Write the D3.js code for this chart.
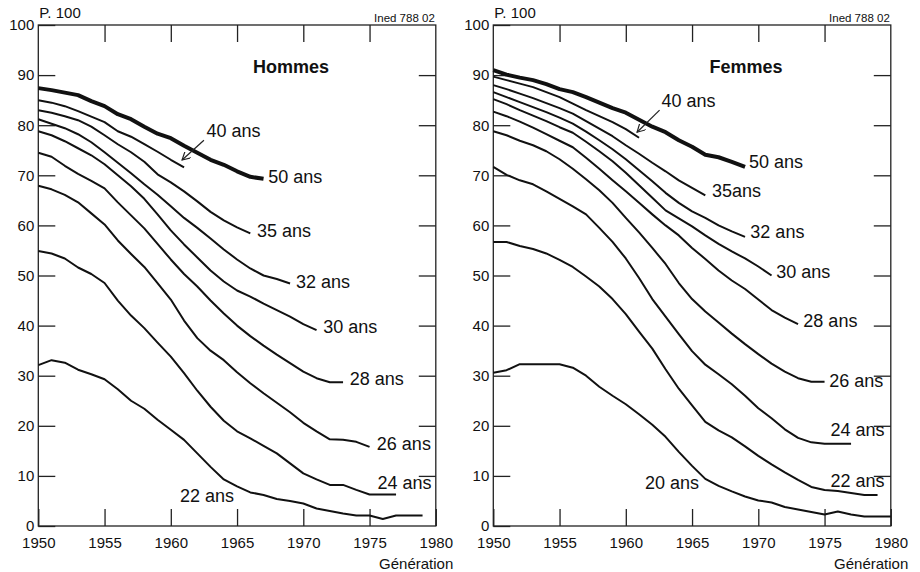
<!DOCTYPE html>
<html>
<head>
<meta charset="utf-8">
<script src="https://cdn.jsdelivr.net/npm/d3@7/dist/d3.min.js"></script>
<style>
  body { margin: 0; background: #fff; }
  svg text { font-family: "Liberation Sans", Arial, Helvetica, sans-serif; fill: #111; }
</style>
</head>
<body>
<div id="chart"></div>
<script>
var firstYear = 1950;
var xTicks = [1950, 1955, 1960, 1965, 1970, 1975, 1980];
var yTicks = [0, 10, 20, 30, 40, 50, 60, 70, 80, 90, 100];

// Hommes - p. 100 still single at each age, by generation (values from 1950 on)
var h50 = [87.4, 87.0, 86.5, 86.0, 84.8, 83.8, 82.2, 81.2, 79.7, 78.3, 77.4, 75.9, 74.5, 73.1, 72.1, 70.8, 69.7, 69.3];
var h40 = [85.0, 84.5, 83.8, 82.8, 81.7, 80.6, 78.8, 77.7, 76.2, 74.7, 73.1, 71.6];
var h35 = [83.0, 82.5, 81.8, 81.0, 79.7, 78.0, 76.2, 74.6, 72.7, 70.2, 68.6, 66.8, 64.8, 62.7, 61.0, 59.6, 58.4];
var h32 = [81.2, 80.3, 79.4, 78.2, 76.6, 74.6, 72.5, 70.4, 68.2, 66.1, 63.8, 61.5, 59.5, 57.4, 55.2, 53.2, 51.4, 50.0, 49.3, 48.4];
var h30 = [78.8, 78.0, 76.8, 75.4, 74.0, 72.2, 70.0, 67.8, 65.3, 62.2, 59.0, 56.2, 53.6, 51.0, 48.8, 47.0, 45.8, 44.4, 43.1, 41.8, 40.3, 39.1];
var h28 = [74.5, 73.7, 71.9, 70.3, 68.9, 67.4, 64.6, 62.0, 59.4, 56.3, 53.2, 50.3, 47.8, 45.0, 42.4, 40.0, 37.9, 36.0, 34.2, 32.5, 30.8, 29.5, 28.7, 28.7];
var h26 = [67.9, 67.2, 66.1, 64.6, 62.4, 60.2, 57.0, 54.3, 51.7, 48.5, 45.2, 41.0, 37.5, 35.0, 33.1, 30.7, 28.5, 26.5, 24.6, 22.7, 20.6, 18.9, 17.3, 17.2, 16.8, 15.8];
var h24 = [54.9, 54.4, 53.4, 51.6, 50.3, 48.5, 45.0, 42.0, 39.5, 36.6, 33.8, 30.5, 27.0, 23.8, 21.0, 18.9, 17.5, 16.0, 14.5, 12.5, 10.5, 9.3, 8.2, 8.2, 7.2, 6.3, 6.3, 6.3];
var h22 = [32.1, 33.1, 32.6, 31.2, 30.3, 29.3, 27.3, 25.0, 23.4, 21.2, 19.2, 17.2, 14.5, 11.8, 9.3, 7.9, 6.7, 6.2, 5.4, 5.0, 4.5, 3.5, 3.0, 2.5, 2.1, 2.1, 1.4, 2.1, 2.1, 2.1];

// Femmes
var f50 = [91.0, 90.1, 89.5, 89.0, 88.2, 87.2, 86.6, 85.6, 84.5, 83.4, 82.5, 81.1, 79.7, 78.6, 77.0, 75.7, 74.1, 73.6, 72.7, 71.7];
var f40 = [89.7, 89.0, 88.3, 87.6, 86.6, 85.6, 84.3, 83.0, 81.8, 80.6, 79.2, 77.5];
var f35 = [88.0, 87.2, 86.3, 85.4, 84.4, 83.4, 82.3, 80.8, 79.3, 77.8, 76.0, 74.3, 72.5, 70.8, 69.0, 67.5, 66.0];
var f32 = [86.6, 85.6, 84.6, 83.6, 82.6, 81.5, 80.3, 78.7, 77.0, 75.2, 73.2, 71.0, 68.8, 66.5, 64.5, 62.8, 61.5, 60.0, 58.8, 57.7];
var f30 = [85.2, 84.2, 83.0, 81.9, 80.8, 79.6, 78.5, 76.7, 74.8, 72.8, 70.5, 68.0, 65.5, 63.0, 61.4, 59.8, 58.0, 56.3, 54.8, 53.4, 51.8, 50.0];
var f28 = [82.7, 81.8, 80.7, 79.5, 78.2, 76.9, 75.6, 73.5, 71.3, 69.0, 66.8, 64.5, 62.2, 60.0, 58.0, 55.5, 53.3, 51.0, 49.0, 47.3, 45.2, 43.1, 41.6, 40.3];
var f26 = [78.8, 78.0, 76.9, 76.0, 74.8, 73.2, 71.3, 69.2, 67.0, 64.5, 61.5, 58.6, 55.5, 52.3, 48.5, 45.3, 42.8, 40.6, 38.4, 36.3, 34.3, 32.4, 30.8, 29.5, 28.8, 28.8];
var f24 = [71.7, 70.1, 69.0, 68.2, 66.8, 65.3, 63.8, 62.2, 59.5, 56.7, 53.4, 49.5, 45.3, 41.8, 38.3, 34.9, 32.2, 30.3, 28.3, 26.0, 23.5, 21.5, 19.3, 17.6, 16.7, 16.4, 16.4, 16.4];
var f22 = [56.7, 56.7, 55.9, 55.3, 54.4, 53.1, 51.7, 49.8, 47.8, 45.3, 42.3, 38.8, 35.4, 31.3, 27.4, 24.1, 20.8, 19.1, 17.7, 15.9, 14.0, 12.3, 10.7, 9.2, 7.8, 7.2, 7.0, 6.6, 6.2, 6.2];
var f20 = [30.6, 31.1, 32.3, 32.3, 32.3, 32.3, 31.6, 30.0, 27.8, 26.0, 24.3, 22.3, 20.2, 17.8, 14.8, 12.0, 9.4, 8.0, 6.9, 5.9, 5.1, 4.7, 3.8, 3.3, 2.8, 2.3, 2.9, 2.3, 1.9, 1.9, 1.9];

// curve labels, anchored in data units (year, p. 100)
var hommesLabels = [
  {text: "50 ans", year: 1967.35, value: 68.5},
  {text: "40 ans", year: 1962.7, value: 77.6},
  {text: "35 ans", year: 1966.5, value: 57.7},
  {text: "32 ans", year: 1969.45, value: 47.5},
  {text: "30 ans", year: 1971.5, value: 38.5},
  {text: "28 ans", year: 1973.5, value: 28.1},
  {text: "26 ans", year: 1975.55, value: 15.2},
  {text: "24 ans", year: 1975.6, value: 7.4},
  {text: "22 ans", year: 1960.7, value: 4.8}
];
var femmesLabels = [
  {text: "50 ans", year: 1969.3, value: 71.5},
  {text: "40 ans", year: 1962.7, value: 83.6},
  {text: "35ans", year: 1966.5, value: 65.6},
  {text: "32 ans", year: 1969.4, value: 57.5},
  {text: "30 ans", year: 1971.35, value: 49.5},
  {text: "28 ans", year: 1973.4, value: 39.8},
  {text: "26 ans", year: 1975.35, value: 27.7},
  {text: "24 ans", year: 1975.45, value: 18.0},
  {text: "22 ans", year: 1975.45, value: 7.8},
  {text: "20 ans", year: 1961.45, value: 7.4}
];
var hommesArrow = {from: [1962.5, 77.0], to: [1960.85, 73.05]};
var femmesArrow = {from: [1962.55, 83.0], to: [1960.85, 78.6]};

var width = 920, height = 572;
var plotTop = 25, plotH = 501, plotW = 397.5;

var svg = d3.select("#chart").append("svg")
  .attr("width", width)
  .attr("height", height);

svg.append("defs").append("marker")
  .attr("id", "arrowhead")
  .attr("viewBox", "0 0 10 10")
  .attr("refX", 9).attr("refY", 5)
  .attr("markerWidth", 9).attr("markerHeight", 9)
  .attr("markerUnits", "userSpaceOnUse")
  .attr("orient", "auto")
  .append("path")
  .attr("d", "M0,0 L9,5 L0,10")
  .attr("fill", "none")
  .attr("stroke", "#222")
  .attr("stroke-width", 1.3);

function drawPanel(left, title, series, labels, arrow) {
  var g = svg.append("g").attr("transform", "translate(" + left + "," + plotTop + ")");

  var x = d3.scaleLinear().domain([1950, 1980]).range([0, plotW]);
  var y = d3.scaleLinear().domain([0, 100]).range([plotH, 0]);

  // ticks inside the frame on all four sides
  var yAxis = g.append("g")
    .call(d3.axisLeft(y).tickValues(yTicks).tickSize(-17).tickPadding(4));
  yAxis.selectAll("text").style("font-size", "15px");

  g.append("g").attr("transform", "translate(" + plotW + ",0)")
    .call(d3.axisRight(y).tickValues(yTicks.slice(1, -1)).tickSize(-17).tickFormat(""));

  var xAxis = g.append("g").attr("transform", "translate(0," + plotH + ")")
    .call(d3.axisBottom(x).tickValues(xTicks).tickSize(-17).tickPadding(11.5).tickFormat(d3.format("d")));
  xAxis.selectAll("text").style("font-size", "15px");

  g.append("g")
    .call(d3.axisTop(x).tickValues(xTicks.slice(1, -1)).tickSize(-17).tickFormat(""));

  g.selectAll(".domain").remove();
  g.selectAll(".tick line").attr("stroke", "#222").attr("stroke-width", 1.3);
  g.selectAll(".tick text").attr("fill", "#111");

  g.append("rect")
    .attr("x", 0).attr("y", 0)
    .attr("width", plotW).attr("height", plotH)
    .attr("fill", "none")
    .attr("stroke", "#222")
    .attr("stroke-width", 1.3);

  // curves
  var line = d3.line()
    .x(function(d, i) { return x(firstYear + i); })
    .y(function(d) { return y(d); });

  g.selectAll(".curve")
    .data(series)
    .enter().append("path")
    .attr("class", "curve")
    .attr("d", function(s) { return line(s.values); })
    .attr("fill", "none")
    .attr("stroke", "#111")
    .attr("stroke-width", function(s) { return s.thick ? 4 : 2; })
    .attr("stroke-linejoin", "round");

  g.selectAll(".lbl")
    .data(labels)
    .enter().append("text")
    .attr("class", "lbl")
    .attr("x", function(d) { return x(d.year); })
    .attr("y", function(d) { return y(d.value); })
    .style("font-size", "18px")
    .text(function(d) { return d.text; });

  g.append("line")
    .attr("x1", x(arrow.from[0])).attr("y1", y(arrow.from[1]))
    .attr("x2", x(arrow.to[0])).attr("y2", y(arrow.to[1]))
    .attr("stroke", "#222")
    .attr("stroke-width", 1.2)
    .attr("marker-end", "url(#arrowhead)");

  g.append("text")
    .attr("x", plotW * 0.636).attr("y", 47.7)
    .attr("text-anchor", "middle")
    .style("font-size", "18px")
    .style("font-weight", "bold")
    .text(title);

  g.append("text")
    .attr("x", 1).attr("y", -7)
    .style("font-size", "15px")
    .text("P. 100");

  g.append("text")
    .attr("x", plotW - 1).attr("y", -3.5)
    .attr("text-anchor", "end")
    .style("font-size", "11.5px")
    .text("Ined 788 02");

  g.append("text")
    .attr("x", plotW + 17.5).attr("y", plotH + 43)
    .attr("text-anchor", "end")
    .style("font-size", "15px")
    .text("Génération");
}

drawPanel(38.3, "Hommes", [
  {values: h50, thick: true}, {values: h40}, {values: h35}, {values: h32}, {values: h30},
  {values: h28}, {values: h26}, {values: h24}, {values: h22}
], hommesLabels, hommesArrow);

drawPanel(493.3, "Femmes", [
  {values: f50, thick: true}, {values: f40}, {values: f35}, {values: f32}, {values: f30},
  {values: f28}, {values: f26}, {values: f24}, {values: f22}, {values: f20}
], femmesLabels, femmesArrow);
</script>
</body>
</html>
